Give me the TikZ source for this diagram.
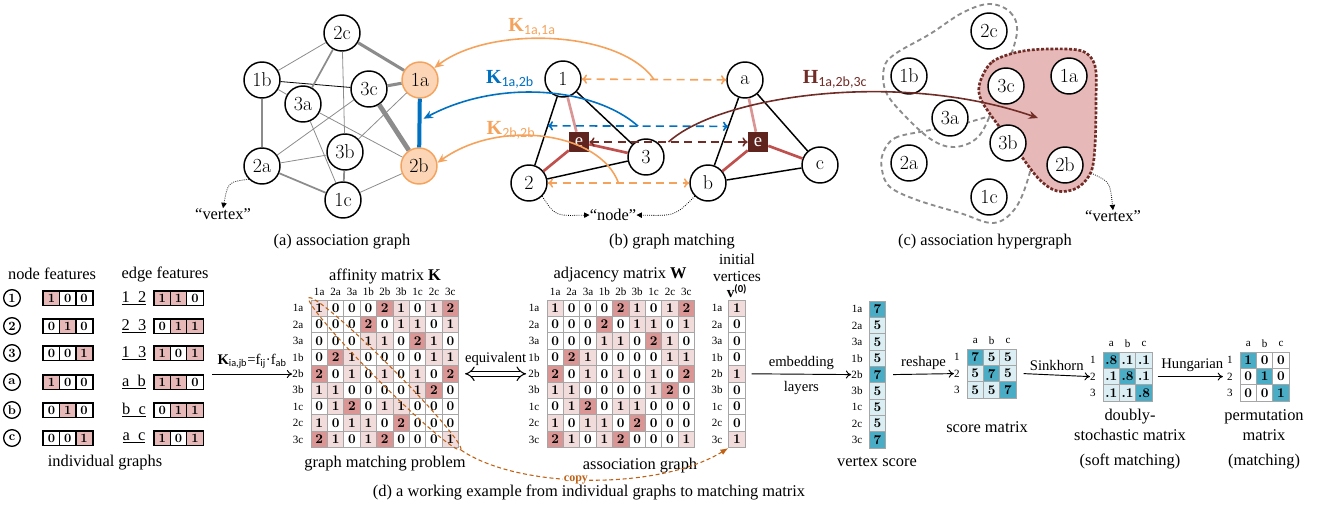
\documentclass[tikz,border=0pt]{standalone}
\usepackage{fontspec}
\usepackage{tikz}
\usetikzlibrary{arrows.meta,calc,shapes.geometric}
\newfontfamily\tnr{Liberation Serif}
\newfontfamily\subsf{Carlito}

\definecolor{orln}{RGB}{245,163,92}
\definecolor{peach}{RGB}{251,213,181}
\definecolor{blln}{RGB}{0,112,192}
\definecolor{brdark}{RGB}{112,44,38}
\definecolor{eboxc}{RGB}{96,36,30}
\definecolor{redln}{RGB}{192,80,77}
\definecolor{pinkln}{RGB}{217,150,148}
\definecolor{kone}{RGB}{242,220,219}
\definecolor{ktwo}{RGB}{217,150,148}
\definecolor{fpink}{RGB}{230,185,184}
\definecolor{hypfill}{RGB}{230,184,183}
\definecolor{sdark}{RGB}{75,172,198}
\definecolor{slight}{RGB}{218,238,243}
\definecolor{gridg}{RGB}{166,166,166}
\definecolor{edgeg}{RGB}{140,140,140}
\definecolor{copyc}{RGB}{191,98,22}

% weight label: bold letter, sans subscript
\newcommand{\wl}[2]{{\tnr\bfseries #1}\textsubscript{\subsf #2}}

\begin{document}
\begin{tikzpicture}[x=0.75pt,y=-0.75pt,
  vtx/.style={circle,draw,line width=1.1pt,fill=white,minimum size=27pt,inner sep=0pt,font=\fontsize{15}{15}\selectfont},
  hot/.style={vtx,draw=orln,fill=peach},
  svtx/.style={circle,draw,line width=1pt,minimum size=12.5pt,inner sep=0pt,font=\bfseries\fontsize{9.5}{9.5}\selectfont},
  ebx/.style={fill=eboxc,text=white,minimum size=15pt,inner sep=0pt,font=\tnr\fontsize{14}{14}\selectfont},
  capt/.style={font=\tnr\fontsize{12.3}{15}\selectfont,align=center,inner sep=0pt},
  lbl/.style={font=\tnr\fontsize{11}{13}\selectfont,inner sep=1pt},
  ilbl/.style={font=\tnr\fontsize{8.3}{9}\selectfont,inner sep=0pt},
  klbl/.style={font=\fontsize{15}{15}\selectfont,inner sep=0pt},
  kcell/.style={draw=gridg,line width=0.6pt,minimum size=12.3pt,inner sep=0pt,font=\bfseries\fontsize{10}{10}\selectfont},
  scell/.style={kcell,minimum size=12.3pt},
  fcell/.style={draw,line width=0.7pt,minimum width=12.2pt,minimum height=10.5pt,inner sep=0pt,font=\bfseries\fontsize{9.5}{9.5}\selectfont},
  gthin/.style={edgeg,line width=0.6pt},
  gmid/.style={edgeg,line width=1.3pt},
  gthk/.style={edgeg,line width=2.3pt},
  gvthk/.style={edgeg,line width=3.6pt},
  ordash/.style={orln,line width=1.2pt,dash pattern=on 6pt off 4pt,<->,>={To[length=4pt,width=7pt]}},
  bldash/.style={ordash,blln},
  brdash/.style={ordash,brdark},
  curv/.style={line width=1.2pt,->,>={Stealth[length=7pt,width=6pt]}},
  dotarr/.style={densely dotted,line width=0.6pt,-{Triangle[length=4pt,width=4pt]}},
  hyp/.style={edgeg,line width=1.4pt,dash pattern=on 3.5pt off 2.5pt},
  hypsel/.style={draw=brdark,fill=hypfill,line width=2pt,dash pattern=on 2.2pt off 1.3pt},
  stp/.style={line width=0.7pt,->,>={To[length=4pt,width=6pt]}},
  copyln/.style={copyc,line width=0.8pt,dash pattern=on 3pt off 2pt}]

\useasboundingbox (0,0) rectangle (1324,508);

% (a) association graph
\node[vtx] (a2c) at (342,33) {2c};
\node[vtx] (a1b) at (262,80) {1b};
\node[vtx] (a3a) at (303,104) {3a};
\node[vtx] (a3c) at (369,89) {3c};
\node[hot] (a1a) at (420,80) {1a};
\node[vtx] (a3b) at (345,152) {3b};
\node[vtx] (a2a) at (262,166) {2a};
\node[hot] (a2b) at (419,166) {2b};
\node[vtx] (a1c) at (343,200) {1c};
\foreach \from/\to in {a2c/a1b,a2c/a3b,a1b/a3a,a3a/a2b,a3a/a1c,a3c/a2a,a1a/a3b,a3b/a2a,a1c/a2b}
  \draw[gthin] (\from) -- (\to);
\draw[line width=0.6pt] (a1b) -- (a3c);
\foreach \from/\to in {a1b/a2a,a2c/a3a,a2a/a1c,a3b/a1c}
  \draw[gmid] (\from) -- (\to);
\draw[gthk] (a2c) -- (a1a);
\draw[gthk] (a3c) -- (a1a);
\draw[gvthk] (a3c) -- (a2b);
\draw[blln,line width=3pt] (a1a) -- (a2b);
\node[capt] (vxa) at (223,214) {“vertex”};
\draw[dotarr] (a2a.225) .. controls (228,182) .. (vxa.north);
\node[capt] (capa) at (342,242) {(a) association graph};

% (b) graph matching
\node[vtx] (g1) at (563,79) {1};
\node[vtx] (g2) at (529,183) {2};
\node[vtx] (g3) at (646,157) {3};
\node[ebx] (geL) at (579,142) {e};
\node[vtx] (ga) at (745,80) {a};
\node[vtx] (gb) at (708,183) {b};
\node[vtx] (gc) at (820,165) {c};
\node[ebx] (geR) at (758,142) {e};
\foreach \from/\to in {g1/g2,g1/g3,g2/g3,ga/gb,ga/gc,gb/gc}
  \draw[line width=1.1pt] (\from) -- (\to);
\draw[pinkln,line width=2pt] (g1) -- (geL);
\draw[pinkln,line width=2pt] (ga) -- (geR);
\foreach \from/\to in {g2/geL,g3/geL,gb/geR,gc/geR}
  \draw[redln,line width=2pt] (\from) -- (\to);
\coordinate (e12) at ($(g1)!0.45!(g2)$);
\coordinate (eab) at ($(ga)!0.45!(gb)$);
\draw[ordash] (g1) -- (ga) coordinate[midway] (m1);
\draw[bldash] (e12) -- (eab) coordinate[midway] (m2);
\draw[ordash] (g2) -- (gb) coordinate[midway] (m3);
\draw[brdash] (geL) -- (geR) coordinate[midway] (m4);
\draw[curv,orln] (m1) .. controls (620,30) and (490,25) .. (a1a.40);
\draw[curv,blln] (m2) .. controls (595,88) and (500,78) .. ($(a1a)!0.45!(a2b)+(4,0)$);
\draw[curv,orln] (m3) .. controls (600,132) and (500,118) .. (a2b.10);
\node[klbl,orln] (k11) at (532,27) {\wl{K}{1a,1a}};
\node[klbl,blln] (k12) at (510,79) {\wl{K}{1a,2b}};
\node[klbl,orln] (k22) at (511,130) {\wl{K}{2b,2b}};
\node[capt] (ndl) at (613,215) {“node”};
\draw[dotarr] (g2.south east) .. controls (555,216) .. (ndl.west);
\draw[dotarr] (gb.south west) .. controls (675,216) .. (ndl.east);
\node[capt] (capb) at (672,242) {(b) graph matching};

% (c) association hypergraph
\draw[hyp] plot[smooth cycle,tension=0.6] coordinates {(989,4) (1010,12) (1017,32) (1006,70) (993,108) (978,137) (955,147) (932,140) (905,116) (886,92) (884,68) (895,54) (930,34) (962,13)};
\draw[hyp] plot[smooth cycle,tension=0.6] coordinates {(883,153) (895,138) (925,131) (962,124) (995,116) (1022,122) (1034,146) (1027,182) (1014,210) (993,223) (960,213) (917,200) (890,187) (882,170)};
\draw[hypsel] plot[smooth cycle,tension=0.55] coordinates {(980,82) (992,62) (1018,52) (1048,49) (1082,51) (1095,66) (1096,100) (1095,145) (1091,172) (1077,188) (1057,191) (1038,178) (1014,146) (990,114) (980,97)};
\node[vtx] (h2c) at (989,31) {2c};
\node[vtx] (h1b) at (909,76) {1b};
\node[vtx] (h3c) at (1006,86) {3c};
\node[vtx] (h1a) at (1069,76) {1a};
\node[vtx] (h3a) at (950,118) {3a};
\node[vtx] (h3b) at (1008,143) {3b};
\node[vtx] (h2a) at (909,163) {2a};
\node[vtx] (h2b) at (1065,165) {2b};
\node[vtx] (h1c) at (989,197) {1c};
\coordinate (hyp) at (1038,118);
\draw[curv,brdark] (m4) .. controls (720,95) and (900,70) .. (hyp);
\node[klbl,brdark] (h123) at (835,79) {\wl{H}{1a,2b,3c}};
\coordinate (hv) at (1093,174);
\node[capt] (vxc) at (1113,216) {“vertex”};
\draw[dotarr] (hv) .. controls (1110,182) .. (vxc.north);
\node[capt] (capc) at (985,242) {(c) association hypergraph};

% (d) individual graphs
\node[capt] (nft) at (52,274) {node features};
\node[capt] (eft) at (165,274) {edge features};
\foreach \lb/\y/\na/\nb/\nc/\ep/\ea/\eb/\ec in {1/298/1/0/0/{1\ \ 2}/1/1/0, 2/326/0/1/0/{2\ \ 3}/0/1/1, 3/353/0/0/1/{1\ \ 3}/1/0/1, a/382/1/0/0/{a\ \ b}/1/1/0, b/410/0/1/0/{b\ \ c}/0/1/1, c/438/0/0/1/{a\ \ c}/1/0/1}{
  \node[svtx] (nd-\lb) at (12,\y) {\lb};
  \foreach \val [count=\ii] in {\na,\nb,\nc}{
    \ifnum\val=1 \def\cc{fpink}\else\def\cc{white}\fi
    \node[fcell,fill=\cc] (nf-\lb-\ii) at ({35.2+16.3*\ii},\y) {\val};
  }
  \draw[line width=1.2pt] (nf-\lb-1.north west) rectangle (nf-\lb-3.south east);
  \node[capt] (el-\lb) at (134,\y) {\underline{\ep}};
  \foreach \val [count=\ii] in {\ea,\eb,\ec}{
    \ifnum\val=1 \def\cc{fpink}\else\def\cc{white}\fi
    \node[fcell,fill=\cc] (ef-\lb-\ii) at ({146+16.3*\ii},\y) {\val};
  }
  \draw[line width=1.2pt] (ef-\lb-1.north west) rectangle (ef-\lb-3.south east);
}
\node[capt] (igr) at (105,463) {individual graphs};

% affinity matrix K and adjacency matrix W
\foreach \m/\xo in {K/311,W/547}{
  \foreach \lb [count=\ii] in {1a,2a,3a,1b,2b,3b,1c,2c,3c}{
    \node[ilbl] (\m-r\ii) at (\xo-13,{300+16.4*(\ii-0.5)}) {\lb};
    \node[ilbl] (\m-c\ii) at ({\xo+16.4*(\ii-0.5)},292) {\lb};
  }
  \foreach \rw [count=\ii] in {{1,0,0,0,2,1,0,1,2},{0,0,0,2,0,1,1,0,1},{0,0,0,1,1,0,2,1,0},
      {0,2,1,0,0,0,0,1,1},{2,0,1,0,1,0,1,0,2},{1,1,0,0,0,0,1,2,0},
      {0,1,2,0,1,1,0,0,0},{1,0,1,1,0,2,0,0,0},{2,1,0,1,2,0,0,0,1}}{
    \foreach \val [count=\jj] in \rw {
      \ifcase\val \def\cc{white}\or\def\cc{kone}\or\def\cc{ktwo}\fi
      \node[kcell,fill=\cc] (\m-\ii-\jj) at ({\xo+16.4*(\jj-0.5)},{300+16.4*(\ii-0.5)}) {\val};
    }
  }
}
\node[capt] (kttl) at (385,276) {affinity matrix \textbf{K}};
\node[capt] (wttl) at (620,275) {adjacency matrix \textbf{W}};
\node[capt] (kcap) at (385,464) {graph matching problem};
\node[capt] (wcap) at (640,466) {association graph};

% initial vertices
\node[capt,font=\tnr\fontsize{11.5}{12.5}\selectfont] (ivt) at (737,268) {initial\\vertices};
\node[inner sep=0pt,font=\tnr\fontsize{11.5}{12}\selectfont] (v0t) at (737,291) {{\bfseries v}\textsuperscript{\subsf\bfseries (0)}};
\foreach \val [count=\ii] in {1,0,0,0,1,0,0,0,1}{
  \ifnum\val=1 \def\cc{kone}\else\def\cc{white}\fi
  \node[kcell,fill=\cc] (v0-\ii) at (737,{300+16.4*(\ii-0.5)}) {\val};
}
\foreach \lb [count=\ii] in {1a,2a,3a,1b,2b,3b,1c,2c,3c}{
  \node[ilbl] (v0-r\ii) at (717,{300+16.4*(\ii-0.5)}) {\lb};
  \node[ilbl] (vs-r\ii) at (857,{301+16.35*(\ii-0.5)}) {\lb};
}

% K from node and edge features
\coordinate (kst) at (212,374);
\draw[stp] (kst) -- (kst -| K-r5.west) node[midway,above=3pt,lbl] (kfm)
  {{\bfseries K}\textsubscript{\subsf ia,jb}=f\textsubscript{\subsf ij}·f\textsubscript{\subsf ab}};
\draw[double,double distance=3pt,line width=0.8pt,{Implies[length=5pt]}-{Implies[length=5pt]}] ($(K-5-9.east)+(6,0)$) -- ($(W-r5.west)+(-2,0)$)
  node[midway,above=5pt,lbl] (eqv) {equivalent};

% diagonal copied to initial vertices
\node[copyln,draw,ellipse,rotate=-45,minimum width=161pt,minimum height=13.5pt] (cp) at ($(K-1-1)!0.5!(K-9-9)$) {};
\draw[copyln,-{Latex[length=6pt]}] (cp.east) .. controls (520,490) and (660,490) .. (v0-9.south west)
  node[pos=0.45,fill=white,inner sep=1pt,font=\tnr\bfseries\fontsize{9}{9}\selectfont,text=copyc] (cpl) {copy};

% vertex score
\foreach \val [count=\ii] in {7,5,5,5,7,5,5,5,7}{
  \ifnum\val=7 \def\cc{sdark}\else\def\cc{slight}\fi
  \node[scell,fill=\cc] (vs-\ii) at (877.5,{301+16.35*(\ii-0.5)}) {\val};
}
\draw[stp] ($(v0-5.east)+(6,0)$) -- (vs-r5.west)
  node[midway,above=2pt,lbl] (emb) {embedding} node[midway,below=4pt,lbl] (lay) {layers};
\node[capt] (vscap) at (877,462) {vertex score};

% score, doubly-stochastic and permutation matrices
\foreach \m/\xo/\yo/\on/\off/\offc in {S/967/349/7/5/slight, D/1103/352/.8/.1/slight, P/1240/352/1/0/white}{
  \foreach \lb [count=\ii] in {a,b,c}
    \node[ilbl] (\m-c\ii) at ({\xo+16.4*(\ii-0.5)},\yo-8) {\lb};
  \foreach \ii in {1,2,3}{
    \node[ilbl] (\m-r\ii) at (\xo-10,{\yo+16.4*(\ii-0.5)}) {\ii};
    \foreach \jj in {1,2,3}{
      \ifnum\ii=\jj \def\cc{sdark}\def\vv{\on}\else\def\cc{\offc}\def\vv{\off}\fi
      \node[scell,fill=\cc] (\m-\ii-\jj) at ({\xo+16.4*(\jj-0.5)},{\yo+16.4*(\ii-0.5)}) {\vv};
    }
  }
}
\draw[stp] ($(vs-5.east)+(7,0)$) -- (S-r2.west) node[midway,above=2pt,lbl] (rsh) {reshape};
\draw[stp] ($(S-2-3.east)+(7,0)$) -- (D-r2.west) node[midway,above=2pt,lbl] (snk) {Sinkhorn};
\draw[stp,shorten >=3pt] ($(D-2-3.east)+(5,0)$) -- (P-r2.west) node[midway,above=2pt,lbl] (hun) {Hungarian};
\node[capt] (scap) at (987,427) {score matrix};
\node[capt] (dcap) at (1130,439) {doubly-\\stochastic matrix\\[4pt](soft matching)};
\node[capt] (pcap) at (1264,439) {permutation\\matrix\\[4pt](matching)};

\node[capt] (capd) at (589,492) {(d) a working example from individual graphs to matching matrix};
\end{tikzpicture}
\end{document}
